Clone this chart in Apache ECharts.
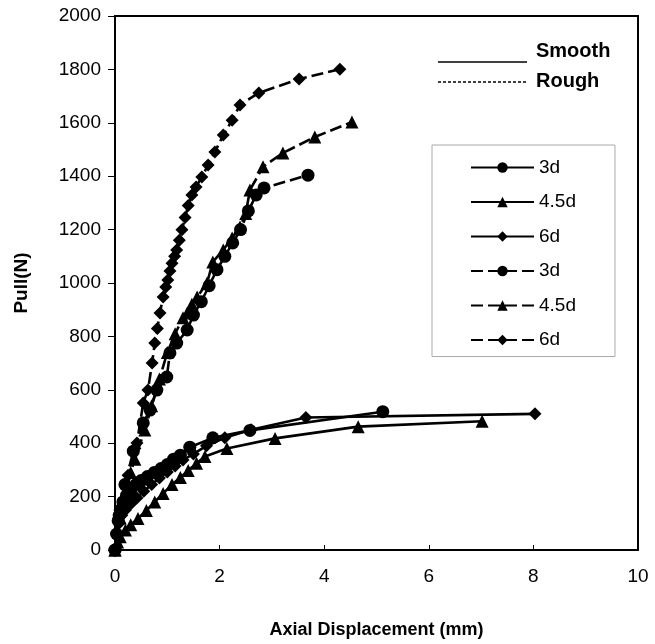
<!DOCTYPE html>
<html><head><meta charset="utf-8">
<script src="https://cdn.jsdelivr.net/npm/echarts@6/dist/echarts.min.js"></script>
<style>html,body{margin:0;padding:0;background:#fff}#c{width:655px;height:644px}</style>
</head><body><div id="c"></div>
<script>
// ---- data (x = axial displacement mm, y = pull N) ----
const xTicks = [0, 2, 4, 6, 8, 10];
const legendLabels = ['3d', '4.5d', '6d', '3d', '4.5d', '6d'];

const smooth3d = [[0,0],[0.03,60],[0.06,110],[0.1,150],[0.15,180],[0.22,205],[0.3,225],[0.4,245],[0.5,260],[0.62,275],[0.75,290],[0.88,305],[1.0,320],[1.12,340],[1.25,355],[1.43,385],[1.87,420],[2.58,448],[5.12,518]];
const smooth45 = [[0,0],[0.05,30],[0.1,50],[0.2,75],[0.3,95],[0.44,118],[0.6,148],[0.76,180],[0.92,212],[1.09,245],[1.25,272],[1.4,298],[1.56,325],[1.72,350],[2.14,380],[3.06,418],[4.65,462],[7.02,482]];
const smooth6d = [[0,0],[0.04,60],[0.08,100],[0.13,130],[0.2,150],[0.3,172],[0.42,195],[0.55,220],[0.7,245],[0.85,270],[1.0,292],[1.15,315],[1.3,337],[1.5,360],[1.75,390],[2.1,420],[2.6,450],[3.65,496],[8.03,510]];

const rough3d = [[0,0],[0.08,130],[0.19,245],[0.35,370],[0.54,476],[0.67,524],[0.8,599],[0.99,648],[1.05,738],[1.18,775],[1.38,824],[1.5,880],[1.65,930],[1.8,990],[1.95,1050],[2.1,1100],[2.25,1150],[2.4,1200],[2.55,1270],[2.7,1330],[2.85,1356],[3.69,1404]];
const rough45 = [[0,0],[0.1,120],[0.3,290],[0.38,340],[0.57,449],[0.7,540],[0.85,640],[1.0,740],[1.15,810],[1.3,870],[1.38,888],[1.47,920],[1.57,948],[1.76,1000],[1.87,1079],[2.07,1124],[2.24,1169],[2.39,1210],[2.5,1260],[2.58,1348],[2.83,1435],[3.21,1487],[3.82,1547],[4.53,1603]];
const rough6d = [[0,0],[0.1,150],[0.25,280],[0.38,380],[0.42,401],[0.54,551],[0.63,599],[0.71,700],[0.76,775],[0.81,830],[0.86,888],[0.92,948],[0.97,985],[1.01,1011],[1.05,1045],[1.09,1074],[1.14,1100],[1.18,1124],[1.23,1160],[1.28,1199],[1.34,1245],[1.4,1290],[1.47,1330],[1.55,1360],[1.66,1397],[1.78,1442],[1.91,1491],[2.07,1554],[2.24,1610],[2.39,1667],[2.75,1712],[3.52,1764],[4.3,1801]];

// ---- chart ----
const FONT = 'Liberation Sans, Arial, sans-serif';
const chart = echarts.init(document.getElementById('c'), null, {renderer: 'canvas'});

function mk(id, data, symbol, size, dashed) {
  return {
    id: id, name: id, type: 'line', data: data,
    symbol: symbol, symbolSize: size, showAllSymbol: true,
    itemStyle: {color: '#000'},
    lineStyle: {color: '#000', width: 2.6, type: dashed ? [12, 5] : 'solid'},
    animation: false, z: 3
  };
}
const ids = ['s3', 's45', 's6', 'r3', 'r45', 'r6'];

chart.setOption({
  backgroundColor: '#fff',
  animation: false,
  textStyle: {fontFamily: FONT, color: '#000'},
  grid: {left: 115, right: 17, top: 16, bottom: 94, show: true, borderColor: '#000', borderWidth: 2, backgroundColor: 'transparent'},
  xAxis: {
    type: 'value', min: 0, max: 10, interval: 2,
    name: 'Axial Displacement (mm)', nameLocation: 'middle', nameGap: 71,
    nameTextStyle: {fontFamily: FONT, fontSize: 18, fontWeight: 'bold', color: '#000'},
    axisLine: {lineStyle: {color: '#000', width: 2}},
    axisTick: {inside: true, length: 5, lineStyle: {color: '#000'}},
    axisLabel: {fontFamily: FONT, fontSize: 19, color: '#000', margin: 17, formatter: function (v) { return String(v); }},
    splitLine: {show: false}
  },
  yAxis: {
    type: 'value', min: 0, max: 2000, interval: 200,
    name: 'Pull(N)', nameLocation: 'middle', nameGap: 84, nameRotate: 90,
    nameTextStyle: {fontFamily: FONT, fontSize: 19, fontWeight: 'bold', color: '#000'},
    axisLine: {lineStyle: {color: '#000', width: 2}},
    axisTick: {inside: false, length: 7, lineStyle: {color: '#000'}},
    axisLabel: {fontFamily: FONT, fontSize: 19, color: '#000', margin: 14, formatter: function (v) { return String(v); }},
    splitLine: {show: false}
  },
  legend: {
    orient: 'vertical', left: 432, top: 145,
    data: ids,
    formatter: function (n) { return legendLabels[ids.indexOf(n)]; },
    itemWidth: 63, itemHeight: 13, itemGap: 15.5,
    padding: [13, 39, 7, 38],
    borderColor: '#aaa', borderWidth: 1,
    textStyle: {fontFamily: FONT, fontSize: 19, color: '#000'},
    backgroundColor: '#fff'
  },
  graphic: [
    {type: 'line', shape: {x1: 438, y1: 62, x2: 527, y2: 62}, style: {stroke: '#000', lineWidth: 1.5}},
    {type: 'text', left: 536, top: 41, style: {text: 'Smooth', font: 'bold 20px ' + FONT, fill: '#000'}},
    {type: 'line', shape: {x1: 438, y1: 82, x2: 527, y2: 82}, style: {stroke: '#000', lineWidth: 1.5, lineDash: [3, 2]}},
    {type: 'text', left: 536, top: 71, style: {text: 'Rough', font: 'bold 20px ' + FONT, fill: '#000'}}
  ],
  series: [
    mk('s3', smooth3d, 'circle', 13, false),
    mk('s45', smooth45, 'triangle', 13, false),
    mk('s6', smooth6d, 'diamond', 13, false),
    mk('r3', rough3d, 'circle', 13, true),
    mk('r45', rough45, 'triangle', 13, true),
    mk('r6', rough6d, 'diamond', 13, true)
  ]
});
</script></body></html>
